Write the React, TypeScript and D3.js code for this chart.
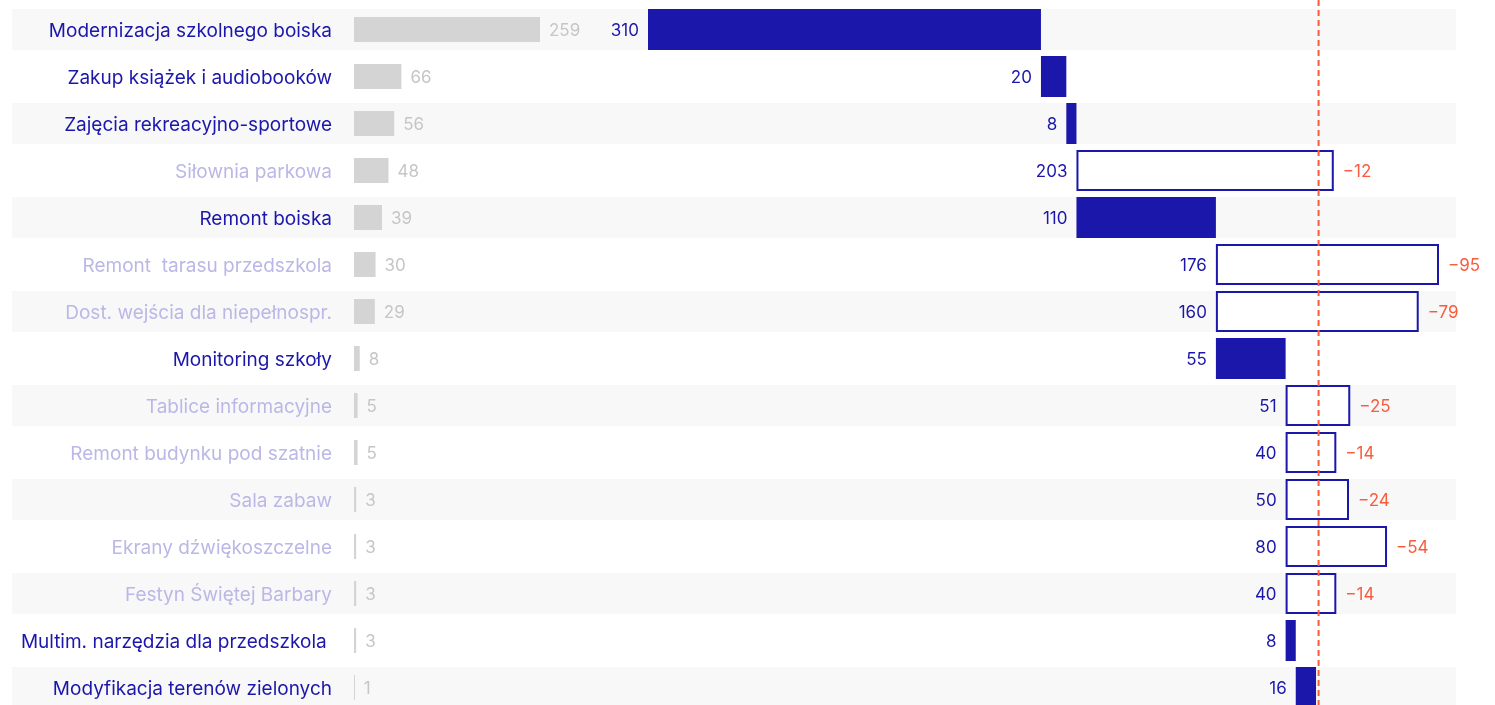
import React from "react";
import * as d3 from "d3";

const categories = [
  "Modernizacja szkolnego boiska",
  "Zakup książek i audiobooków",
  "Zajęcia rekreacyjno-sportowe",
  "Siłownia parkowa",
  "Remont boiska",
  "Remont  tarasu przedszkola",
  "Dost. wejścia dla niepełnospr.",
  "Monitoring szkoły",
  "Tablice informacyjne",
  "Remont budynku pod szatnie",
  "Sala zabaw",
  "Ekrany dźwiękoszczelne",
  "Festyn Świętej Barbary",
  "Multim. narzędzia dla przedszkola ",
  "Modyfikacja terenów zielonych",
];
const votes = [259, 66, 56, 48, 39, 30, 29, 8, 5, 5, 3, 3, 3, 3, 1];
const costs = [310, 20, 8, 203, 110, 176, 160, 55, 51, 40, 50, 80, 40, 8, 16];
const funded = [true, true, true, false, true, false, false, true, false, false, false, false, false, true, true];
const budget = 529;

const W = 1495;
const H = 705;
const BLUE = "#1c17ab";
const LIGHT = "#bbb7e6";
const RED = "#f85c3d";
const GRAY_BAR = "#d4d4d4";
const GRAY_TXT = "#c6c6c6";
const ROW_BG = "#f8f8f8";
const FONT = "Inter, 'Open Sans', sans-serif";

export default function App() {
  let acc = 0;
  const rows = categories.map((c, i) => {
    const start = acc;
    if (funded[i]) acc += costs[i];
    return { c, i, start, cost: costs[i], vote: votes[i], funded: funded[i] };
  });
  const maxEnd = d3.max(rows, (r) => r.start + r.cost) as number;

  const y = d3.scaleBand<string>().domain(categories).range([9, 708]).paddingInner(6 / 47).paddingOuter(0);
  const xv = d3.scaleLinear().domain([0, d3.max(votes) as number]).range([354, 540]);
  const xc = d3.scaleLinear().domain([0, maxEnd]).range([648, 1439]);
  const bw = y.bandwidth();

  return (
    <svg width={W} height={H} style={{ position: "fixed", left: 0, top: 0, display: "block" }} fontFamily={FONT}>
      {rows.map((r) => {
        const y0 = y(r.c) as number;
        const cy = y0 + bw / 2 + 0.5;
        const x0 = xc(r.start);
        const x1 = xc(r.start + r.cost);
        const deficit = budget - (r.start + r.cost);
        return (
          <g key={r.i}>
            {r.i % 2 === 0 && <rect x={12} y={y0} width={1444} height={bw} fill={ROW_BG} />}
            <text x={332} y={cy} textAnchor="end" dominantBaseline="central" fontSize={19} fill={r.funded ? BLUE : LIGHT} style={{ whiteSpace: "pre" }}>
              {r.c}
            </text>
            <rect x={xv(0)} y={y0 + 8} width={Math.max(1, xv(r.vote) - xv(0))} height={bw - 16} fill={GRAY_BAR} />
            <text x={xv(r.vote) + 9} y={cy} dominantBaseline="central" fontSize={17} fill={GRAY_TXT}>
              {r.vote}
            </text>
            {r.funded ? (
              <rect x={x0} y={y0} width={x1 - x0} height={bw} fill={BLUE} />
            ) : (
              <rect x={x0 + 1} y={y0 + 1} width={x1 - x0 - 2} height={bw - 2} fill="#fff" stroke={BLUE} strokeWidth={2} />
            )}
            <text x={x0 - 9} y={cy} textAnchor="end" dominantBaseline="central" fontSize={17} fill={BLUE}>
              {r.cost}
            </text>
            {!r.funded && (
              <text x={x1 + 9} y={cy} dominantBaseline="central" fontSize={17} fill={RED}>
                {"\u2212" + Math.abs(deficit)}
              </text>
            )}
          </g>
        );
      })}
      <line x1={xc(budget)} x2={xc(budget)} y1={0} y2={H} stroke={RED} strokeWidth={2} strokeDasharray="6,4" />
    </svg>
  );
}
